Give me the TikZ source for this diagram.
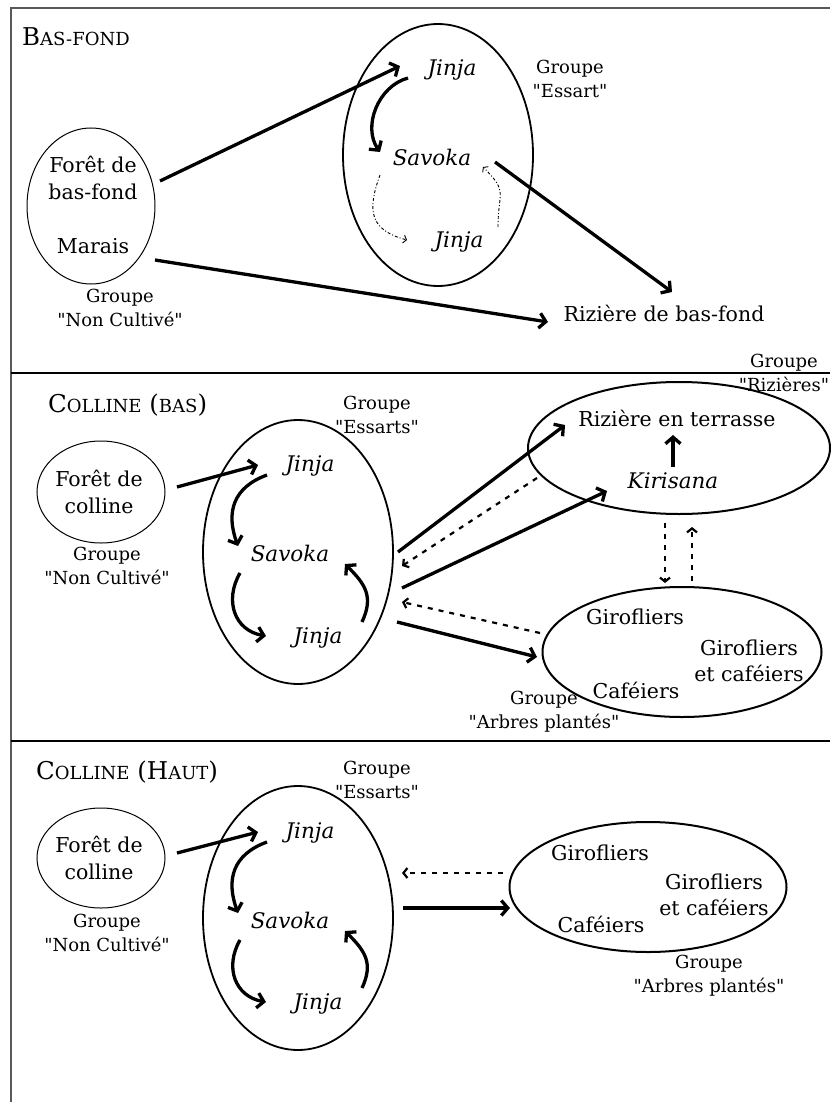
\documentclass[tikz,border=0pt]{standalone}
\usepackage{fontspec}
\setmainfont{DejaVu Serif}[Ligatures=TeXOff]
\usetikzlibrary{arrows.meta,shapes.geometric}
\newcommand{\minor}[1]{{\fontsize{18}{21}\selectfont #1}}

\begin{document}
\begin{tikzpicture}[
  x=1pt, y=1pt,
  big/.style={font=\fontsize{20.5}{26.5}\selectfont, align=center, inner sep=0pt},
  itl/.style={font=\fontsize{21.5}{26}\selectfont\itshape, inner sep=0pt},
  grp/.style={font=\fontsize{18}{24}\selectfont, align=center, inner sep=0pt},
  ttl/.style={font=\fontsize{24.5}{28}\selectfont, anchor=west, inner sep=0pt},
  zone/.style={draw, ellipse, line width=1.8pt, inner sep=0pt},
  wild/.style={draw, ellipse, line width=1pt, inner sep=0pt},
  flow/.style={line width=3.3pt, -{Straight Barb[length=6.5pt,width=15pt]}},
  back/.style={line width=2.2pt, dash pattern=on 5pt off 6pt, -{Straight Barb[length=4pt,width=10pt]}},
  hint/.style={line width=0.9pt, dash pattern=on 3pt off 2pt on 1pt off 2pt, -{Straight Barb[length=3pt,width=8pt]}}
]
\useasboundingbox (0,0) rectangle (830,-1102);

% ---- frame and bands ----
\draw[gray!70!black, line width=2pt] (11,-1102) -- (11,-8) -- (830,-8);
\draw[line width=2pt] (11,-373) -- (830,-373);
\draw[line width=2pt] (11,-741) -- (830,-741);

% ---- BAS-FOND ----
\node[ttl] (tBF) at (22,-37) {B\minor{AS-FOND}};

% uncultivated
\node[wild, minimum width=128pt, minimum height=156pt] (ncA) at (91,-206) {};
\node[big] (fbf) at (93,-178) {Forêt de\\bas-fond};
\node[big] (mar) at (93,-246) {Marais};
\node[grp] (gncA) at (120,-308) {Groupe\\"Non Cultivé"};

% essart cycle
\node[zone, minimum width=190pt, minimum height=262pt] (esA) at (438,-155) {};
\node[itl] (jA1) at (452,-70) {Jinja};
\node[itl] (savA) at (432,-157) {Savoka};
\node[itl] (jA2) at (459,-242) {Jinja};
\node[grp] (gesA) at (570,-79) {Groupe\\"Essart"};

% rice field
\node[big] (rbf) at (664,-313) {Rizière de bas-fond};

\draw[flow] ([shift={(67,-3)}]fbf.center) -- ([shift={(-52,4)}]jA1.center);
\draw[flow] ([shift={(-44,-8)}]jA1.center) to[out=195,in=125] ([shift={(-52,5)}]savA.center);
\draw[hint] ([shift={(-52,-18)}]savA.center) to[out=250,in=165,looseness=1.4] ([shift={(-52,2)}]jA2.center);
\draw[hint] ([shift={(39,15)}]jA2.center) to[out=90,in=-45,looseness=1.5] ([shift={(51,-10)}]savA.center);
\draw[flow] ([shift={(63,-5)}]savA.center) -- ([shift={(8,21)}]rbf.center);
\draw[flow] ([shift={(62,-14)}]mar.center) -- ([shift={(-116,-9)}]rbf.center);

% ---- COLLINE (BAS) ----
\node[ttl] (tCB) at (48,-405) {C\minor{OLLINE} (\minor{BAS})};

\node[wild, minimum width=128pt, minimum height=102pt] (fcB) at (101,-492) {};
\node[big] (tfcB) at (99,-492) {Forêt de\\colline};
\node[grp] (gncB) at (107,-566) {Groupe\\"Non Cultivé"};

\node[zone, minimum width=190pt, minimum height=264pt] (esB) at (298,-552) {};
\node[grp] (gesB) at (377,-415) {Groupe\\"Essarts"};
\node[itl] (jB1) at (310,-466) {Jinja};
\node[itl] (savB) at (290,-553) {Savoka};
\node[itl] (jB2) at (318,-638) {Jinja};

% terraces
\node[zone, line width=2pt, minimum width=302pt, minimum height=132pt] (rtB) at (679,-448) {};
\node[big] (rter) at (677,-418) {Rizière en terrasse};
\node[itl] (kir) at (673,-481) {Kirisana};
\node[grp] (grzB) at (784,-373) {Groupe\\"Rizières"};

% planted trees
\node[zone, line width=2pt, minimum width=279pt, minimum height=130pt] (apB) at (682,-652) {};
\node[big] (girB) at (635,-617) {Girofliers};
\node[big] (gcB) at (749,-661) {Girofliers\\et caféiers};
\node[big] (cafB) at (636,-690) {Caféiers};
\node[grp] (gapB) at (544,-712) {Groupe\\"Arbres plantés"};

\draw[flow] ([shift={(78,5)}]tfcB.center) -- ([shift={(-52,1)}]jB1.center);
\draw[flow] ([shift={(-43,-9)}]jB1.center) to[out=200,in=110,looseness=1.2] ([shift={(-52,7)}]savB.center);
\draw[flow] ([shift={(-50,-20)}]savB.center) to[out=240,in=170,looseness=1.2] ([shift={(-52,2)}]jB2.center);
\draw[flow] ([shift={(44,16)}]jB2.center) to[out=65,in=-45,looseness=1.2] ([shift={(55,-11)}]savB.center);
\draw[flow] ([shift={(108,1)}]savB.center) -- ([shift={(-112,-7)}]rter.center);
\draw[back] ([shift={(-136,3)}]kir.center) -- ([shift={(112,-13)}]savB.center);
\draw[flow] ([shift={(112,-35)}]savB.center) -- ([shift={(-66,-10)}]kir.center);
\draw[back] ([shift={(-95,-16)}]girB.center) -- ([shift={(84,36)}]jB2.center);
\draw[flow] ([shift={(79,16)}]jB2.center) -- ([shift={(-99,33)}]cafB.center);
\draw[flow] ([shift={(0,14)}]kir.center) -- ([shift={(-4,-17)}]rter.center);
\draw[back] ([shift={(-8,-42)}]kir.center) -- ([shift={(30,34)}]girB.center);
\draw[back] ([shift={(57,36)}]girB.center) -- ([shift={(19,-46)}]kir.center);

% ---- COLLINE (HAUT) ----
\node[ttl] (tCH) at (36,-772) {C\minor{OLLINE} (H\minor{AUT})};

\node[wild, minimum width=128pt, minimum height=100pt] (fcC) at (101,-858) {};
\node[big] (tfcC) at (99,-858) {Forêt de\\colline};
\node[grp] (gncC) at (107,-933) {Groupe\\"Non Cultivé"};

\node[zone, minimum width=190pt, minimum height=264pt] (esC) at (298,-918) {};
\node[grp] (gesC) at (377,-780) {Groupe\\"Essarts"};
\node[itl] (jC1) at (310,-833) {Jinja};
\node[itl] (savC) at (290,-920) {Savoka};
\node[itl] (jC2) at (318,-1004) {Jinja};

\node[zone, line width=2pt, minimum width=277pt, minimum height=130pt] (apC) at (648,-887) {};
\node[big] (girC) at (600,-853) {Girofliers};
\node[big] (gcC) at (714,-895) {Girofliers\\et caféiers};
\node[big] (cafC) at (601,-924) {Caféiers};
\node[grp] (gapC) at (709,-976) {Groupe\\"Arbres plantés"};

\draw[flow] ([shift={(78,5)}]tfcC.center) -- ([shift={(-52,1)}]jC1.center);
\draw[flow] ([shift={(-43,-9)}]jC1.center) to[out=200,in=110,looseness=1.2] ([shift={(-52,7)}]savC.center);
\draw[flow] ([shift={(-50,-20)}]savC.center) to[out=240,in=170,looseness=1.2] ([shift={(-52,2)}]jC2.center);
\draw[flow] ([shift={(44,16)}]jC2.center) to[out=65,in=-45,looseness=1.2] ([shift={(55,-11)}]savC.center);
\draw[back] ([shift={(-97,-20)}]girC.center) -- ([shift={(112,47)}]savC.center);
\draw[flow] ([shift={(113,12)}]savC.center) -- ([shift={(-91,16)}]cafC.center);
\end{tikzpicture}
\end{document}
